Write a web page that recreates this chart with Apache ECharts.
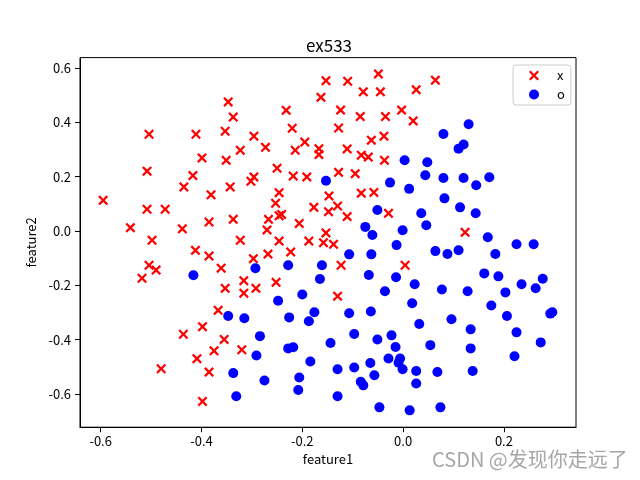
<!DOCTYPE html>
<html>
<head>
<meta charset="utf-8">
<script src="https://cdn.jsdelivr.net/npm/echarts@6/dist/echarts.min.js"></script>
<style>html,body{margin:0;padding:0;background:#fff}#c{width:640px;height:480px}</style>
</head>
<body>
<div id="c"></div>
<script>
const titleText = 'ex533';
const xName = 'feature1';
const yName = 'feature2';
const seriesNames = ['x', 'o'];
const xTicks = [-0.6, -0.4, -0.2, 0.0, 0.2];
const yTicks = [-0.6, -0.4, -0.2, 0.0, 0.2, 0.4, 0.6];

const redX = [-0.504,-0.411,-0.399,-0.508,-0.417,-0.435,-0.347,-0.337,-0.353,-0.296,-0.273,-0.323,-0.351,-0.232,-0.220,-0.195,-0.214,-0.167,-0.167,-0.163,-0.153,-0.250,-0.218,-0.191,-0.296,-0.302,-0.343,-0.110,-0.049,0.064,-0.079,-0.045,0.026,-0.124,-0.085,-0.035,-0.003,0.020,-0.128,-0.063,-0.038,-0.111,-0.083,-0.069,-0.037,-0.128,-0.095,-0.595,-0.508,-0.472,-0.541,-0.438,-0.498,-0.412,-0.504,-0.490,-0.518,-0.381,-0.246,-0.253,-0.177,-0.385,-0.337,-0.267,-0.246,-0.241,-0.206,-0.270,-0.323,-0.246,-0.187,-0.158,-0.153,-0.138,-0.223,-0.268,-0.385,-0.297,-0.361,-0.316,-0.292,-0.353,-0.316,-0.252,-0.147,-0.083,-0.058,-0.130,-0.148,-0.111,-0.029,-0.123,0.004,-0.130,0.123,-0.398,-0.436,-0.409,-0.480,-0.398,-0.367,-0.355,-0.375,-0.320,-0.385];
const redY = [0.356,0.356,0.269,0.220,0.204,0.162,0.475,0.419,0.367,0.349,0.308,0.297,0.260,0.444,0.378,0.327,0.297,0.303,0.281,0.492,0.553,0.231,0.202,0.199,0.199,0.183,0.162,0.551,0.578,0.555,0.512,0.512,0.520,0.445,0.421,0.421,0.445,0.405,0.379,0.334,0.349,0.302,0.279,0.272,0.260,0.216,0.211,0.113,0.080,0.080,0.012,0.008,-0.034,-0.071,-0.126,-0.144,-0.174,0.133,0.141,0.102,0.087,0.033,0.043,0.043,0.056,0.061,0.028,0.004,-0.034,-0.037,-0.037,-0.043,-0.007,-0.049,-0.077,-0.085,-0.092,-0.102,-0.137,-0.183,-0.211,-0.211,-0.229,-0.189,0.129,0.139,0.142,0.092,0.071,0.053,0.065,-0.126,-0.126,-0.240,-0.005,-0.352,-0.380,-0.470,-0.507,-0.627,-0.292,-0.399,-0.441,-0.437,-0.519];

const blueX = [-0.153,0.003,0.048,0.080,0.044,0.080,-0.026,0.012,0.130,0.110,0.120,0.120,0.145,0.171,0.082,-0.051,0.036,0.046,-0.075,-0.061,-0.001,-0.013,-0.107,-0.063,0.064,0.088,-0.161,-0.068,-0.014,-0.165,0.023,0.077,-0.036,0.018,0.113,0.144,0.168,0.225,0.259,0.110,0.183,0.161,0.189,0.277,0.235,0.263,0.128,0.203,0.175,-0.416,-0.293,-0.228,-0.200,-0.248,-0.347,-0.315,-0.226,-0.176,-0.187,-0.284,-0.291,-0.228,-0.218,-0.184,-0.337,-0.275,-0.206,-0.208,-0.331,-0.107,-0.064,0.032,-0.097,-0.144,-0.051,-0.023,-0.015,0.054,-0.029,-0.006,-0.009,-0.001,-0.065,-0.130,-0.097,0.026,0.068,-0.057,-0.084,-0.079,0.026,-0.130,-0.047,0.013,0.074,0.096,0.206,0.296,0.292,0.134,0.225,0.273,0.134,0.221,0.138];
const blueY = [0.185,0.260,0.253,0.357,0.205,0.195,0.178,0.155,0.393,0.303,0.318,0.195,0.168,0.198,0.120,0.077,0.065,0.021,0.015,-0.015,0.003,-0.052,-0.086,-0.086,-0.074,-0.085,-0.126,-0.162,-0.170,-0.177,-0.196,-0.215,-0.222,-0.266,0.087,0.065,-0.023,-0.049,-0.049,-0.071,-0.085,-0.156,-0.167,-0.176,-0.196,-0.211,-0.222,-0.226,-0.274,-0.163,-0.137,-0.126,-0.234,-0.257,-0.313,-0.321,-0.318,-0.299,-0.332,-0.387,-0.458,-0.432,-0.428,-0.480,-0.523,-0.550,-0.539,-0.585,-0.608,-0.303,-0.296,-0.342,-0.379,-0.412,-0.399,-0.384,-0.427,-0.420,-0.469,-0.469,-0.485,-0.509,-0.486,-0.509,-0.502,-0.515,-0.519,-0.531,-0.555,-0.568,-0.561,-0.608,-0.649,-0.660,-0.649,-0.325,-0.313,-0.299,-0.304,-0.362,-0.373,-0.410,-0.432,-0.461,-0.515];

const xPath = 'path://M1.6,0L5,3.4L8.4,0L10,1.6L6.6,5L10,8.4L8.4,10L5,6.6L1.6,10L0,8.4L3.4,5L0,1.6Z';
const FONT = '"Noto Sans CJK SC", sans-serif';

const zip = (a, b) => a.map((v, i) => [v, b[i]]);

const chart = echarts.init(document.getElementById('c'), null, {renderer: 'canvas'});
chart.setOption({
  animation: false,
  backgroundColor: '#fff',
  textStyle: {fontFamily: FONT, color: '#000'},
  title: {
    text: titleText, left: 324, top: 32, textAlign: 'center',
    textStyle: {fontFamily: FONT, fontSize: 17, fontWeight: 'normal', color: '#000'}
  },
  graphic: [{
    type: 'text', left: 432, top: 449,
    style: {text: 'CSDN @发现你走远了', fontFamily: FONT, fontSize: 20, fill: 'rgba(150,150,150,0.85)'}
  }],
  legend: {
    orient: 'vertical', left: 513, top: 65,
    borderColor: '#cccccc', borderWidth: 1, borderRadius: 3,
    padding: [4, 6, 4, 16], itemGap: 6, itemWidth: 36, itemHeight: 10,
    textStyle: {fontFamily: FONT, fontSize: 13, color: '#000'},
    data: [{name: seriesNames[0], icon: xPath}, {name: seriesNames[1], icon: 'circle'}]
  },
  grid: {left: 80, right: 64, top: 57.6, bottom: 52.8, show: true, borderColor: '#000', borderWidth: 1, containLabel: false},
  xAxis: {
    type: 'value', min: -0.641, max: 0.343,
    name: xName, nameLocation: 'middle', nameGap: 21,
    nameTextStyle: {fontFamily: FONT, fontSize: 13, color: '#000'},
    axisLine: {show: true, onZero: false, lineStyle: {color: '#000', width: 1}},
    axisTick: {show: true, length: 5, lineStyle: {color: '#000'}, customValues: xTicks},
    axisLabel: {show: true, margin: 7, fontFamily: FONT, fontSize: 13, color: '#000', customValues: xTicks, formatter: v => v.toFixed(1)},
    splitLine: {show: false}
  },
  yAxis: {
    type: 'value', min: -0.722, max: 0.638,
    name: yName, nameLocation: 'middle', nameGap: 41, nameRotate: 90,
    nameTextStyle: {fontFamily: FONT, fontSize: 13, color: '#000'},
    axisLine: {show: true, onZero: false, lineStyle: {color: '#000', width: 1}},
    axisTick: {show: true, length: 5, lineStyle: {color: '#000'}, customValues: yTicks},
    axisLabel: {show: true, margin: 9, fontFamily: FONT, fontSize: 13, color: '#000', customValues: yTicks, formatter: v => v.toFixed(1)},
    splitLine: {show: false}
  },
  series: [
    {name: seriesNames[0], type: 'scatter', symbol: xPath, symbolSize: 10,
     itemStyle: {color: '#ff0000', opacity: 1}, data: zip(redX, redY)},
    {name: seriesNames[1], type: 'scatter', symbol: 'circle', symbolSize: 10,
     itemStyle: {color: '#0000ff', opacity: 1}, data: zip(blueX, blueY)}
  ]
});
</script>
</body>
</html>
